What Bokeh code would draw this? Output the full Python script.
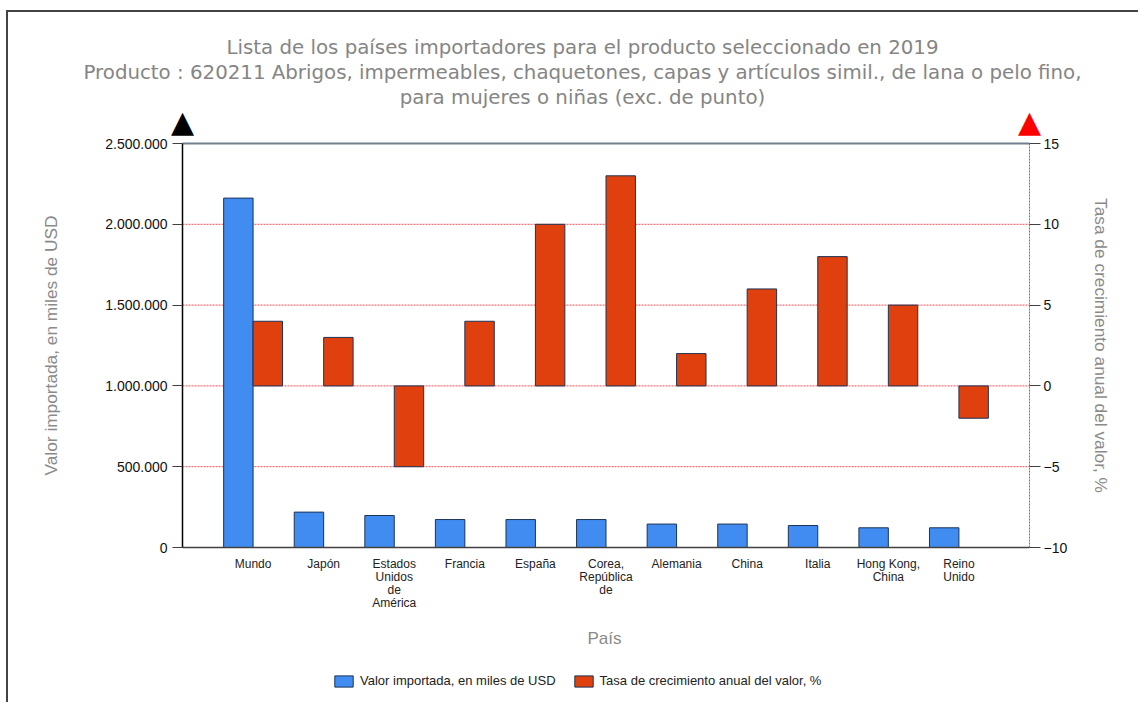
import math
from bokeh.plotting import figure
from bokeh.models import (Range1d, LinearAxis, FixedTicker, Label, Legend,
                          LegendItem, ColumnDataSource)
from bokeh.embed import file_html
from bokeh.resources import INLINE

# ---------------- data ----------------
paises = ["Mundo", "Japón", "Estados\nUnidos\nde\nAmérica", "Francia", "España",
          "Corea,\nRepública\nde", "Alemania", "China", "Italia",
          "Hong Kong,\nChina", "Reino\nUnido"]
valor = [2162000, 219000, 198000, 173000, 173000, 173000, 145000, 145000,
         136000, 122000, 122000]
tasa = [4, 3, -5, 4, 10, 13, 2, 6, 8, 5, -2]
left_ticks = [0, 500000, 1000000, 1500000, 2000000, 2500000]
left_labels = ["0", "500.000", "1.000.000", "1.500.000", "2.000.000", "2.500.000"]
right_ticks = [-10, -5, 0, 5, 10, 15]
titulo = ["Lista de los países importadores para el producto seleccionado en 2019",
          "Producto : 620211 Abrigos, impermeables, chaquetones, capas y artículos simil., de lana o pelo fino,",
          "para mujeres o niñas (exc. de punto)"]
serie_nombres = ["Valor importada, en miles de USD", "Tasa de crecimiento anual del valor, %"]
eje_x = "País"

FONT = "Liberation Sans"
TFONT = "DejaVu Sans"
BLUE = "#418CF0"
RED = "#E0400E"
EDGE = "#1c3458"
GRAY = "#8a8a8a"

# ---------------- geometry (pixels) ----------------
W, H = 1130, 690            # the frame fills the whole canvas
AX_L, AX_R = 174, 1021      # value axes, px from the left edge
AX_TOP, AX_BOT = 131, 535   # value axes top / bottom, px from the top edge
n = len(paises)
ppu = (AX_R - AX_L) / (n + 1)
x_start = -AX_L / ppu
x_end = (W - AX_L) / ppu
ymax_l = left_ticks[-1]
upp_l = ymax_l / (AX_BOT - AX_TOP)
r0, r1_ = right_ticks[0], right_ticks[-1]
upp_r = (r1_ - r0) / (AX_BOT - AX_TOP)

pos = list(range(1, n + 1))
bw = 0.417
src = ColumnDataSource(dict(
    xb=[p - bw / 2 for p in pos],
    xr=[p + bw / 2 for p in pos],
    valor=valor, tasa=tasa))

p = figure(width=W, height=H, frame_width=W, frame_height=H,
           x_range=Range1d(x_start, x_end),
           y_range=Range1d(-(H - AX_BOT) * upp_l, AX_BOT * upp_l),
           y_axis_location=None, output_backend="svg", toolbar_location=None,
           min_border_left=0, min_border_right=0, min_border_top=0,
           min_border_bottom=0)
p.margin = (10, 0, 0, 6)
p.styles = {"border-top": "2px solid #444444", "border-left": "2px solid #444444"}
p.outline_line_color = None
p.grid.visible = False
p.extra_y_ranges = {"right": Range1d(r0 - (H - AX_BOT) * upp_r, r0 + AX_BOT * upp_r)}

# grid lines (between the two value axes)
grid_y = left_ticks[1:-1]
p.segment(x0=[0] * len(grid_y), x1=[n + 1] * len(grid_y), y0=grid_y, y1=grid_y,
          line_color="#e8343c", line_dash="2 1", line_width=1, line_alpha=0.85)
p.segment(x0=[0], x1=[n + 1], y0=[ymax_l], y1=[ymax_l],
          line_color="#708090", line_width=2)

r1 = p.vbar(x="xb", top="valor", width=bw, source=src, fill_color=BLUE,
            line_color=EDGE, line_width=1)
r2 = p.vbar(x="xr", bottom=0, top="tasa", width=bw, source=src,
            y_range_name="right", fill_color=RED, line_color=EDGE, line_width=1)

# x axis
xa = p.xaxis[0]
xa.fixed_location = 0
xa.bounds = (0, n + 1)
xa.ticker = FixedTicker(ticks=pos)
xa.major_label_overrides = {k: v for k, v in zip(pos, paises)}
xa.major_tick_line_color = None
xa.major_tick_out = 0
xa.minor_tick_line_color = None
xa.axis_line_color = "#404040"
xa.axis_line_width = 1.5
xa.major_label_text_font = FONT
xa.major_label_text_font_size = "12px"
xa.major_label_text_line_height = 0.93
xa.major_label_text_color = "#222222"
xa.major_label_standoff = 9

# left axis
ya = LinearAxis(fixed_location=0, bounds=(0, ymax_l),
                ticker=FixedTicker(ticks=left_ticks))
ya.major_label_overrides = {k: v for k, v in zip(left_ticks, left_labels)}
ya.minor_tick_line_color = None
ya.major_tick_out = 10
ya.major_tick_in = 0
ya.major_tick_line_color = "#404040"
ya.axis_line_color = "black"
ya.axis_line_width = 1.5
ya.major_label_text_font = FONT
ya.major_label_text_font_size = "14px"
ya.major_label_text_color = "#111111"
ya.major_label_standoff = 5
p.add_layout(ya, "left")

# right axis
ra = LinearAxis(y_range_name="right", fixed_location=n + 1, bounds=(r0, r1_),
                ticker=FixedTicker(ticks=right_ticks))
ra.minor_tick_line_color = None
ra.major_tick_out = 11
ra.major_tick_in = 0
ra.major_tick_line_color = "#404040"
ra.axis_line_color = "#c8485e"
ra.axis_line_dash = "2 1"
ra.major_label_text_font = FONT
ra.major_label_text_font_size = "14px"
ra.major_label_text_color = "#111111"
ra.major_label_standoff = 3
p.add_layout(ra, "right")

# axis titles
p.add_layout(Label(x=AX_L - 132, x_units="screen", y=ymax_l / 2,
                   text=serie_nombres[0], angle=math.pi / 2,
                   text_align="center", text_baseline="middle",
                   text_font=FONT, text_font_size="17.3px", text_color=GRAY))
p.add_layout(Label(x=AX_R + 71, x_units="screen", y=(r0 + r1_) / 2,
                   y_range_name="right",
                   text=serie_nombres[1], angle=-math.pi / 2,
                   text_align="center", text_baseline="middle",
                   text_font=FONT, text_font_size="17.3px", text_color=GRAY))
p.add_layout(Label(x=596, x_units="screen", y=0, y_offset=-91, text=eje_x,
                   text_align="center", text_baseline="middle",
                   text_font=FONT, text_font_size="17px", text_color=GRAY))

# axis arrows
p.add_layout(Label(x=0, y=ymax_l, text="▲", text_align="center",
                   text_baseline="alphabetic", text_font=TFONT,
                   text_font_size="30px", text_color="black", y_offset=22))
p.add_layout(Label(x=n + 1, y=ymax_l, text="▲", text_align="center",
                   text_baseline="alphabetic", text_font=TFONT,
                   text_font_size="30px", text_color="#ff0000", y_offset=22))

# chart title lines
for t, off in zip(titulo, [96, 71, 46]):
    p.add_layout(Label(x=574, x_units="screen", y=ymax_l, text=t,
                       text_align="center", text_baseline="middle",
                       text_font=TFONT, text_font_size="19.8px",
                       text_color="#858585", y_offset=off))

# legend
legend = Legend(items=[LegendItem(label=serie_nombres[0], renderers=[r1]),
                       LegendItem(label=serie_nombres[1], renderers=[r2])],
                orientation="horizontal", location=(324, 14),
                border_line_color=None, background_fill_alpha=0,
                label_text_font=FONT, label_text_font_size="13px",
                label_text_color="#222222", glyph_width=23, glyph_height=14,
                spacing=16, padding=0, margin=0, label_standoff=5)
p.add_layout(legend)

open("out.html", "w").write(file_html(p, INLINE))
